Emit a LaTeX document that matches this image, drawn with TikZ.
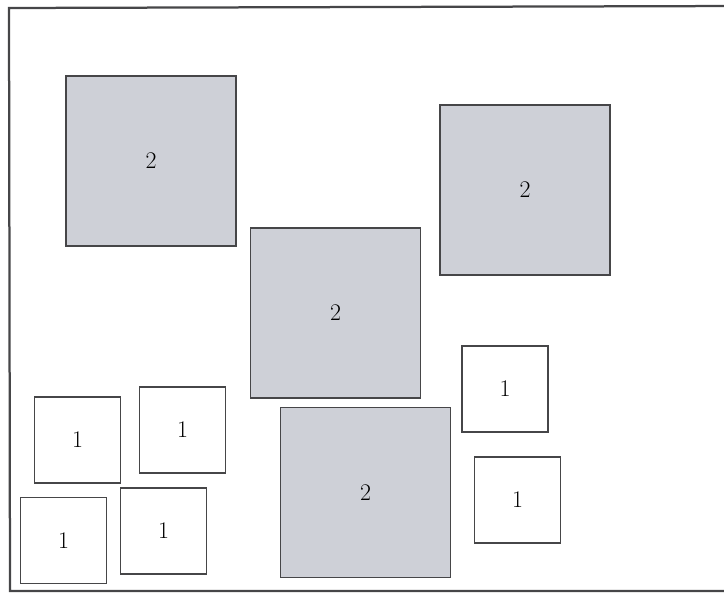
\documentclass[tikz,border=0pt]{standalone}
\usepackage{tikz}
\usetikzlibrary{positioning}

\definecolor{tilegray}{RGB}{206,208,215}
\definecolor{edgegray}{RGB}{70,70,72}

\begin{document}
\begin{tikzpicture}[
    x=0.025cm, y=-0.025cm,
    big/.style={rectangle, draw=edgegray, line width=0.9pt, fill=tilegray, minimum width=4.25cm, minimum height=4.25cm, font=\fontsize{17}{19}\selectfont},
    small/.style={rectangle, draw=edgegray, line width=0.9pt, fill=white, minimum width=2.15cm, minimum height=2.15cm, font=\fontsize{17}{19}\selectfont},
    frame/.style={draw=edgegray, line width=1.6pt}
]
\useasboundingbox (0,0) rectangle (724,593);

% frame (open on the right)
\coordinate (ftr) at (740,6);
\coordinate (ftl) at (9,8);
\coordinate (fbl) at (10,591);
\coordinate (fbr) at (740,591);
\draw[frame] (ftr) -- (ftl) -- (fbl) -- (fbr);

% big tiles
\node[big] (bigA) at (151,161) {2};
\node[big] (bigB) at (525,190) {2};
\node[big] (bigC) at (335.5,313) {2};
\node[big] (bigD) at (365.5,492.5) {2};

% small tiles
\node[small] (smallE) at (505,389) {1};
\node[small] (smallF) at (517.5,500) {1};
\node[small] (smallG) at (77.5,440) {1};
\node[small] (smallH) at (182.5,430) {1};
\node[small] (smallI) at (63.5,540.5) {1};
\node[small] (smallJ) at (163.5,531) {1};

\end{tikzpicture}
\end{document}
